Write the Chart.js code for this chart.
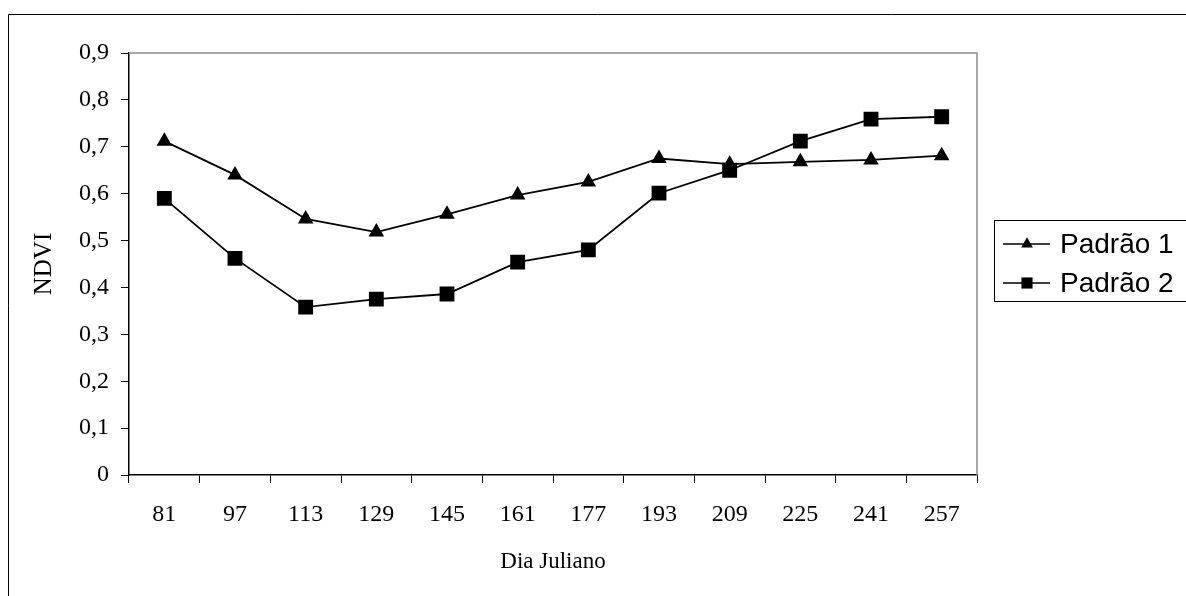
<!DOCTYPE html>
<html>
<head>
<meta charset="utf-8">
<script src="https://cdn.jsdelivr.net/npm/chart.js@4/dist/chart.umd.min.js"></script>
<style>
  html, body { margin: 0; padding: 0; background: #fff; }
  #wrap { width: 1186px; height: 596px; position: relative; }
</style>
</head>
<body>
<div id="wrap"><canvas id="ndviChart"></canvas></div>
<script>
const DAYS = ['81', '97', '113', '129', '145', '161', '177', '193', '209', '225', '241', '257'];
const PADRAO_1 = [0.712, 0.640, 0.546, 0.518, 0.556, 0.597, 0.625, 0.675, 0.663, 0.668, 0.672, 0.681];
const PADRAO_2 = [0.590, 0.462, 0.358, 0.375, 0.386, 0.454, 0.480, 0.601, 0.650, 0.712, 0.759, 0.764];
const SERIES_NAMES = ['Padrão 1', 'Padrão 2'];

const serif = 'Liberation Serif', sans = 'Liberation Sans';

// frame round the whole picture + grey border on top/right of the plot
const framePlugin = {
    id: 'frame',
    beforeDatasetsDraw(chart) {
        const { ctx, chartArea: a } = chart;
        ctx.save();
        ctx.lineWidth = 1;
        ctx.strokeStyle = '#000';
        ctx.beginPath();
        ctx.moveTo(8.5, 596); ctx.lineTo(8.5, 14.5); ctx.lineTo(1186, 14.5);
        ctx.stroke();
        ctx.strokeStyle = '#8c8c8c';
        ctx.lineWidth = 1.5;
        ctx.beginPath();
        ctx.moveTo(a.left, a.top); ctx.lineTo(a.right, a.top); ctx.lineTo(a.right, a.bottom);
        ctx.stroke();
        ctx.restore();
    }
};

// boxed legend on the right, like the spreadsheet one
const boxLegend = {
    id: 'boxLegend',
    afterDraw(chart) {
        const { ctx } = chart;
        ctx.save();
        ctx.strokeStyle = '#000';
        ctx.lineWidth = 1;
        ctx.strokeRect(994.5, 220.5, 220, 81);
        chart.data.datasets.forEach((ds, i) => {
            const y = 244 + i * 39;
            ctx.strokeStyle = '#000';
            ctx.lineWidth = 1.5;
            ctx.beginPath(); ctx.moveTo(1003, y); ctx.lineTo(1050, y); ctx.stroke();
            ctx.fillStyle = '#000';
            Chart.helpers.drawPoint(ctx, { pointStyle: ds.pointStyle, radius: ds.pointRadius * 0.75, borderWidth: 0 }, 1027, y);
            ctx.font = `28px "${sans}"`;
            ctx.textBaseline = 'middle';
            ctx.textAlign = 'left';
            ctx.fillText(SERIES_NAMES[i], 1060, y + 1);
        });
        ctx.restore();
    }
};

new Chart(document.getElementById('ndviChart'), {
    type: 'line',
    data: {
        labels: DAYS,
        datasets: [
            { label: SERIES_NAMES[0], data: PADRAO_1, borderColor: '#000', backgroundColor: '#000', borderWidth: 1.8, pointStyle: 'triangle', pointRadius: 9, pointBorderWidth: 0, tension: 0 },
            { label: SERIES_NAMES[1], data: PADRAO_2, borderColor: '#000', backgroundColor: '#000', borderWidth: 1.8, pointStyle: 'rect', pointRadius: 10.5, pointBorderWidth: 0, tension: 0 }
        ]
    },
    options: {
        responsive: true, maintainAspectRatio: false, animation: false,
        layout: { padding: { left: 0, right: 209, top: 53, bottom: 0 } },
        plugins: { legend: { display: false }, tooltip: { enabled: false } },
        scales: {
            x: {
                type: 'category', offset: true,
                grid: { offset: true, drawOnChartArea: false, tickLength: 8, color: '#000' },
                border: { color: '#000', width: 1.5 },
                ticks: { color: '#000', padding: 17, font: { family: serif, size: 24 }, maxRotation: 0 },
                title: { display: true, text: 'Dia Juliano', color: '#000', font: { family: serif, size: 23 }, padding: { top: 0, bottom: 20 } },
                afterFit(s) { s.height = 121; }
            },
            y: {
                min: 0, max: 0.9,
                grid: { drawOnChartArea: false, tickLength: 8, color: '#000' },
                border: { color: '#000', width: 1.5 },
                ticks: {
                    stepSize: 0.1, color: '#000', padding: 12, font: { family: serif, size: 24 },
                    callback: v => v === 0 ? '0' : v.toFixed(1).replace('.', ',')
                },
                title: { display: true, text: 'NDVI', color: '#000', font: { family: serif, size: 25 }, padding: { top: 29, bottom: 0 } },
                afterFit(s) { s.width = 129; }
            }
        }
    },
    plugins: [framePlugin, boxLegend]
});
</script>
</body>
</html>
